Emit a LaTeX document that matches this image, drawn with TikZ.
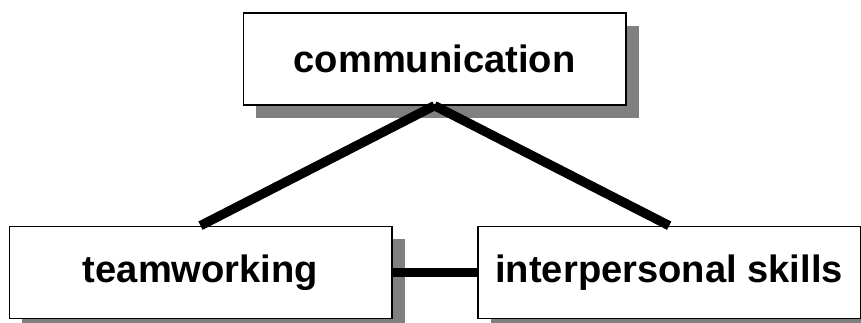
\documentclass[tikz,border=0pt]{standalone}
\usepackage{fontspec}
\setmainfont{Liberation Sans}
\usetikzlibrary{positioning, shadows}

\begin{document}
\begin{tikzpicture}[x=0.75pt, y=-0.75pt, on grid,
    box/.style={draw, line width=1pt, fill=white, minimum width=287pt, minimum height=69pt,
      inner sep=0pt, font=\fontsize{28.6}{34}\selectfont\bfseries,
      drop shadow={shadow xshift=9.5pt, shadow yshift=-9.5pt, fill=black!50, opacity=1}},
    link/.style={line width=7pt}]
   \useasboundingbox (0,0) rectangle (861,323);
   \node[box] (comm) at (434.5,59) {communication};
   \node[box] (team) [below left=160pt and 175.5pt of comm] {teamworking};
   \node[box] (inter) [right=351.5pt of team] {interpersonal skills};

   \path[link]
    (comm.south) edge (team.north)
                 edge (inter.north)
    (team.east) edge (inter.west);
\end{tikzpicture}
\end{document}
